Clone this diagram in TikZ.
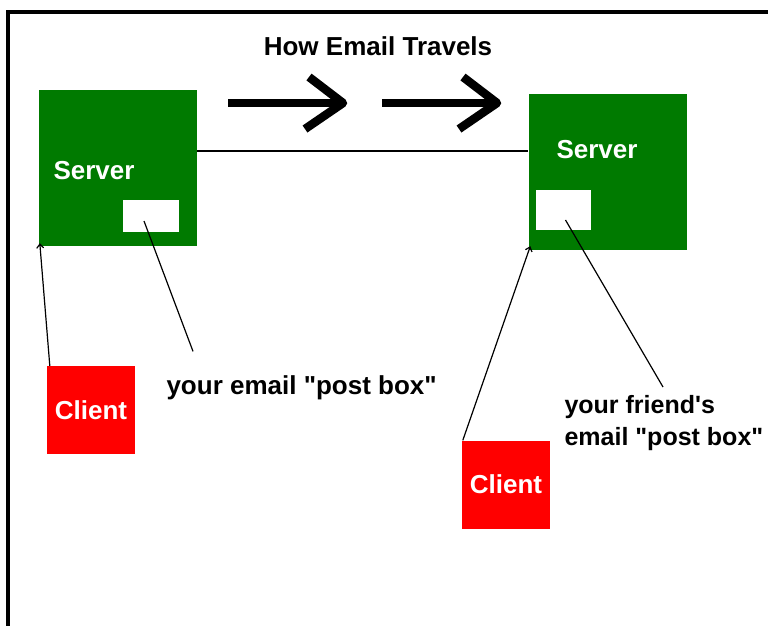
\documentclass[tikz,border=0pt]{standalone}
\usepackage{fontspec}
\setmainfont{Liberation Sans}[Ligatures=TeXOff]
\usetikzlibrary{arrows.meta}
\definecolor{srvgreen}{RGB}{0,122,0}
\definecolor{clired}{RGB}{255,0,0}
\tikzset{
    server/.style={fill=srvgreen, inner sep=0pt, minimum width=158pt, minimum height=156pt},
    client/.style={fill=clired, text=white, inner sep=0pt, minimum width=88pt, minimum height=88pt, font=\fontsize{26}{30}\selectfont\bfseries},
    postbox/.style={fill=white, inner sep=0pt},
    lbl/.style={font=\fontsize{26}{32}\selectfont\bfseries},
    link/.style={line width=1.2pt},
    bigarrow/.style={line width=8.5pt, line join=round}
}
\begin{document}
\begin{tikzpicture}[x=1pt, y=-1pt]
    \useasboundingbox[fill=white] (0,0) rectangle (768,625);
    \draw[line width=4.5pt] (772,12) -- (8,12) -- (8,630);

    \node[lbl] (title) at (378,46) {How Email Travels};
    \foreach \dx in {0,154} {
        \draw[bigarrow] (228+\dx,103) -- (343+\dx,103);
        \draw[bigarrow] (309+\dx,77) -- (343+\dx,103) -- (305+\dx,129);
    }

    \node[server] (srvA) at (118,168) {};
    \node[server] (srvB) at (607.5,172) {};
    \node[postbox, minimum width=56pt, minimum height=32pt] (boxA) at (151,216) {};
    \node[postbox, minimum width=55pt, minimum height=40pt] (boxB) at (563.5,210) {};
    \node[lbl, text=white, anchor=west] (srvAtxt) at (50,171) {Server};
    \node[lbl, text=white] (srvBtxt) at (597,150) {Server};

    \node[client] (cliA) at (91,410) {Client};
    \node[client] (cliB) at (506,484.5) {Client};

    \node[lbl, anchor=west] (boxAtxt) at (163,388) {your email "post box"};
    \node[lbl, font=\fontsize{25}{32}\selectfont\bfseries, anchor=north west, align=left] (boxBtxt) at (561,392) {your friend's\\email "post box"};

    \draw[link] ([yshift=17pt]srvA.east) -- ([yshift=21pt]srvB.west);
    \draw[link, -{Straight Barb[length=4pt, width=7pt]}] ([shift={(3,0)}]cliA.north west) -- ([shift={(1,-3)}]srvA.south west);
    \draw[link, -{Straight Barb[length=4pt, width=7pt]}] ([shift={(1,0)}]cliB.north west) -- ([shift={(2,-4)}]srvB.south west);
    \draw[link] ([shift={(-7,5)}]boxA.center) -- ([shift={(30,-21)}]boxAtxt.north west);
    \draw[link] ([shift={(2,10)}]boxB.center) -- ([shift={(102,-5)}]boxBtxt.north west);
\end{tikzpicture}
\end{document}
